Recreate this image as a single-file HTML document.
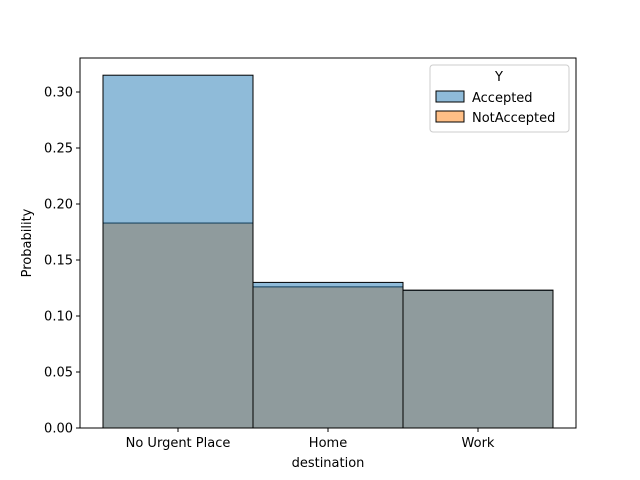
<!DOCTYPE html>
<html><head><meta charset="utf-8">
<style>
body{margin:0;background:#fff;}
svg{display:block;font-family:"DejaVu Sans","Liberation Sans",sans-serif;}
</style></head>
<body>
<svg id="chart" width="640" height="480" viewBox="0 0 640 480">
<rect x="0" y="0" width="640" height="480" fill="#fff"/>
<g id="bars"></g>
<rect x="80" y="58" width="496" height="370" fill="none" stroke="#000" stroke-width="1"/>
<g id="yticks"></g>
<g id="xticks"></g>
<text x="328" y="467" font-size="13" text-anchor="middle">destination</text>
<text x="31" y="243" font-size="13" text-anchor="middle" transform="rotate(-90 31 243)">Probability</text>
<g>
<rect x="430" y="65" width="139" height="67" rx="3" fill="#fff" fill-opacity="0.8" stroke="#ccc"/>
<text x="499" y="81" font-size="13" text-anchor="middle">Y</text>
<rect x="436" y="91" width="28" height="11" fill="rgba(31,119,180,0.5)" stroke="#000" stroke-width="1"/>
<text x="472" y="102" font-size="13">Accepted</text>
<rect x="436" y="111" width="28" height="11" fill="rgba(255,127,14,0.5)" stroke="#000" stroke-width="1"/>
<text x="472" y="122" font-size="13">NotAccepted</text>
</g>
</svg>
<script>
const categories = ["No Urgent Place", "Home", "Work"];
const accepted = [0.315, 0.130, 0.123];
const notAccepted = [0.183, 0.126, 0.123];
const yTicks = ["0.00","0.05","0.10","0.15","0.20","0.25","0.30"];

const NS = "http://www.w3.org/2000/svg";
const plotL = 80, plotR = 576, y0 = 428, pxPerUnit = 1120;
const barW = 150, barStart = 103;
function yScale(v){ return y0 - v * pxPerUnit; }
function xScale(i){ return barStart + i * barW; }

const bars = document.getElementById("bars");
function drawSeries(vals, fill, key){
  vals.forEach((v,i)=>{
    const r = document.createElementNS(NS,"rect");
    r.setAttribute("x", xScale(i));
    r.setAttribute("y", yScale(v));
    r.setAttribute("width", barW);
    r.setAttribute("height", y0 - yScale(v));
    r.setAttribute("fill", fill);
    r.setAttribute("stroke", "#000");
    r.setAttribute("stroke-width", "1");
    
    
    bars.appendChild(r);
  });
}
drawSeries(notAccepted, "rgba(255,127,14,0.5)", "notaccepted");
drawSeries(accepted, "rgba(31,119,180,0.5)", "accepted");

const yg = document.getElementById("yticks");
yTicks.forEach(t=>{
  const y = yScale(parseFloat(t));
  const l = document.createElementNS(NS,"line");
  l.setAttribute("x1", plotL-4); l.setAttribute("x2", plotL);
  l.setAttribute("y1", y); l.setAttribute("y2", y);
  l.setAttribute("stroke","#000");
  
  
  yg.appendChild(l);
  const tx = document.createElementNS(NS,"text");
  tx.setAttribute("x", plotL-7); tx.setAttribute("y", y+4.5);
  tx.setAttribute("font-size","13"); tx.setAttribute("text-anchor","end");
  tx.textContent = t;
  
  
  yg.appendChild(tx);
});
const xg = document.getElementById("xticks");
categories.forEach((c,i)=>{
  const x = xScale(i) + barW/2;
  const l = document.createElementNS(NS,"line");
  l.setAttribute("x1", x); l.setAttribute("x2", x);
  l.setAttribute("y1", y0); l.setAttribute("y2", y0+4);
  l.setAttribute("stroke","#000");
  
  
  xg.appendChild(l);
  const tx = document.createElementNS(NS,"text");
  tx.setAttribute("x", x); tx.setAttribute("y", y0+19);
  tx.setAttribute("font-size","13"); tx.setAttribute("text-anchor","middle");
  tx.textContent = c;
  
  
  xg.appendChild(tx);
});
</script>
</body></html>
